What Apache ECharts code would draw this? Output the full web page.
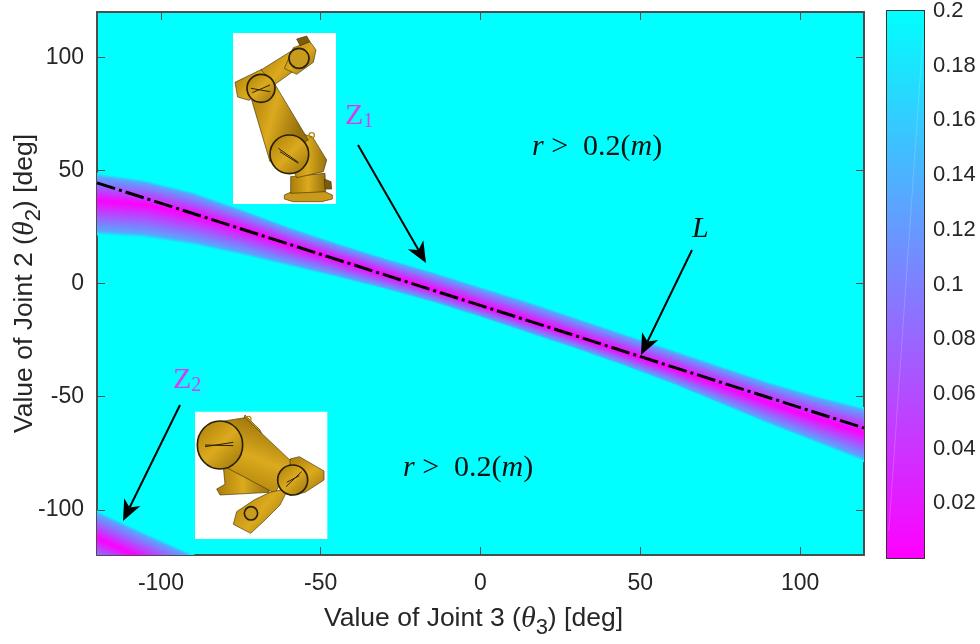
<!DOCTYPE html>
<html><head><meta charset="utf-8">
<style>html,body{margin:0;padding:0;background:#fff}#c{width:980px;height:644px}</style>
<script src="https://cdn.jsdelivr.net/npm/echarts@6/dist/echarts.min.js"></script>
</head><body><div id="c"></div>
<script>
// ---- data ----
const xTicks = [-100, -50, 0, 50, 100];
const yTicks = [-100, -50, 0, 50, 100];
const barTicks = [0.02, 0.04, 0.06, 0.08, 0.1, 0.12, 0.14, 0.16, 0.18, 0.2];
const theta3 = [-120,-105,-90,-75,-60,-45,-30,-15,0,15,30,45,60,75,90,105,120];
const z1Upper = [49.0,45.9,40.6,33.1,25.2,18.1,11.5,5.3,-1.3,-7.9,-15.0,-22.1,-29.1,-36.2,-43.3,-49.4,-54.7];
const z1Centre = [36.6,34.9,30.5,24.3,17.2,10.6,4.0,-2.6,-9.7,-16.3,-23.4,-30.5,-37.5,-45.0,-52.5,-59.6,-66.2];
const z1Lower = [21.2,19.9,16.8,12.4,7.5,2.6,-2.6,-8.4,-15.0,-22.1,-29.1,-36.6,-44.6,-53.4,-62.3,-70.6,-79.0];
const theta3Z2 = [-120,-105,-90,-75];
const z2Upper = [-100.2,-110,-119.5,-129];
const z2Centre = [-112.6,-122,-131,-140];
const z2Lower = [-125,-134,-143,-152];
const lineLx = [-120, 120];
const lineLy = [44.5, -63.9];
const rMax = 0.2;
const contourLevels = [];
for (let r = 0.2; r > 0.002; r -= 0.005) contourLevels.push(+r.toFixed(3));
const colorLow = [255,0,255], colorHigh = [0,255,255];

function cool(r){
  const t = Math.min(1, r / rMax);
  return 'rgb(' + colorLow.map((c,i)=>Math.round(c+(colorHigh[i]-c)*t)).join(',') + ')';
}
// contour stripes thin out towards the band edge: the plotted tone stays bluer until the last lines
function bandTone(r, i){
  const t = r / rMax;
  const base = t < 0.88 ? t * 0.74 : 0.651 + (t - 0.88) / 0.12 * 0.349;
  return rMax * (base + (i % 2 ? 0.025 * t : 0));
}
function bandSeries(xs, up, mid, low){
  return {
    type:'custom', coordinateSystem:'cartesian2d', xAxisIndex:0, yAxisIndex:0, clip:true, silent:true,
    z:2, data:contourLevels.map(r=>[r]), encode:{x:-1,y:-1},
    renderItem(params, api){
      const r = api.value(0), t = r/rMax, pts = [];
      xs.forEach((x,i)=>pts.push(api.coord([x, mid[i]+t*(up[i]-mid[i])])));
      for(let i=xs.length-1;i>=0;i--) pts.push(api.coord([xs[i], mid[i]+t*(low[i]-mid[i])]));
      return {type:'polygon', shape:{points:pts}, style:{fill:cool(bandTone(r, params.dataIndex)), stroke:null}};
    }
  };
}

const ink = '#262626', frame = '#4d4d4d';
const sans = '"Liberation Sans", Arial, sans-serif';
const serif = '"Liberation Serif", "Times New Roman", serif';
const labelRich = {
  th:{fontFamily:serif,fontStyle:'italic',fontSize:30,color:ink},
  sb:{fontFamily:sans,fontSize:22,color:ink,padding:[18,0,0,0],verticalAlign:'bottom'}
};
function mainX(show, pos){ return {
  type:'value', gridIndex:0, min:-120, max:120, position:pos,
  axisLine:{show:true,onZero:false,lineStyle:{color:frame,width:2}},
  axisTick:{show:true,inside:true,length:8,customValues:xTicks,lineStyle:{color:frame,width:1}},
  axisLabel:{show,customValues:xTicks,fontFamily:sans,fontSize:23,color:ink,margin:17},
  splitLine:{show:false}
};}
function mainY(show, pos){ return {
  type:'value', gridIndex:0, min:-120, max:120, position:pos,
  axisLine:{show:true,onZero:false,lineStyle:{color:frame,width:2}},
  axisTick:{show:true,inside:true,length:8,customValues:yTicks,lineStyle:{color:frame,width:1}},
  axisLabel:{show,customValues:yTicks,fontFamily:sans,fontSize:23,color:ink,margin:13},
  splitLine:{show:false}
};}

// ---- illustration helpers (decoration, not data) ----
function gold(x1,y1,x2,y2){return {type:'linear',x:x1,y:y1,x2:x2,y2:y2,colorStops:[{offset:0,color:'#a87c08'},{offset:.5,color:'#dcaa1e'},{offset:1,color:'#96700a'}]};}
function poly(p,f){return {type:'polygon',z:60,shape:{points:p},style:{fill:f||gold(0,0,1,1),stroke:'#4a3606',lineWidth:2}};}
function disc(cx,cy,r,f){return {type:'circle',z:60,shape:{cx,cy,r},style:{fill:f||gold(0,0,1,1),stroke:'#2a2005',lineWidth:5}};}
function seg(x1,y1,x2,y2,w){return {type:'line',z:60,shape:{x1,y1,x2,y2},style:{stroke:'#2a2005',lineWidth:w||3}};}
function robot1(){return {type:'group',x:225,y:25,scaleX:1/3,scaleY:1/3,z:60,children:[
  {type:'rect',z:60,shape:{x:24,y:24,width:309,height:513},style:{fill:'#fff'}},
  poly([[178,510],[205,498],[295,498],[322,510],[322,522],[290,530],[205,530],[178,522]],'#c8991a'),
  poly([[197,455],[300,445],[302,500],[197,505]],gold(0,0,1,0)),
  poly([[298,462],[318,470],[320,492],[300,492]],'#7a5c0c'),
  poly([[225,325],[262,335],[305,405],[295,440],[215,458],[190,400]],gold(0,0,1,0)),
  {type:'circle',z:60,shape:{cx:260,cy:331,r:8},style:{fill:'none',stroke:'#b8890f',lineWidth:4}},
  poly([[80,225],[145,170],[250,345],[135,410]],gold(0,0,1,.2)),
  poly([[30,172],[110,133],[150,170],[72,226],[38,216]],gold(0,0,1,1)),
  poly([[108,135],[215,68],[245,110],[150,178]],gold(0,0,1,1)),
  poly([[205,68],[255,50],[273,75],[265,112],[215,148],[178,130]],gold(0,0,1,1)),
  disc(222,100,30,'#c89a1e'),
  poly([[215,42],[245,33],[255,50],[225,62]],'#7a5c0c'),
  disc(108,190,42),seg(78,190,135,200),seg(82,203,135,180),
  disc(193,388,58,gold(0,0,1,1)),seg(160,370,220,412),seg(165,380,220,415)
]};}
function robot2(){return {type:'group',x:190,y:405,scaleX:1/3,scaleY:1/3,z:60,children:[
  {type:'rect',z:60,shape:{x:15,y:20,width:397,height:382},style:{fill:'#fff'}},
  poly([[100,185],[225,225],[238,262],[90,270],[80,252],[105,238]],gold(0,0,1,0)),
  poly([[165,30],[210,75],[232,125],[150,80]],gold(0,0,1,1)),
  {type:'circle',z:60,shape:{cx:175,cy:42,r:8},style:{fill:'none',stroke:'#b8890f',lineWidth:4}},
  poly([[90,50],[165,38],[305,170],[255,265],[110,188]],gold(.2,1,.6,0)),
  poly([[300,162],[328,155],[402,198],[402,225],[345,262],[300,272]],gold(0,0,1,1)),
  poly([[240,262],[295,250],[270,300],[222,348],[182,385],[130,358],[140,320],[192,285]],gold(0,0,1,1)),
  disc(183,325,20,'#c89a1e'),
  disc(308,225,45),seg(288,245,335,200),seg(290,232,328,212),
  {type:'ellipse',z:60,shape:{cx:90,cy:120,rx:68,ry:72},style:{fill:gold(0,0,1,1),stroke:'#2a2005',lineWidth:5}},
  seg(45,120,130,122),seg(45,125,130,112)
]};}
function arrow(x1,y1,x2,y2){
  const a=Math.atan2(y2-y1,x2-x1),L=21,W=9,N=15;
  const pt=(d,s)=>[x2-d*Math.cos(a)-s*Math.sin(a),y2-d*Math.sin(a)+s*Math.cos(a)];
  return [
    {type:'line',z:70,shape:{x1,y1,x2:pt(N,0)[0],y2:pt(N,0)[1]},style:{stroke:'#000',lineWidth:2}},
    {type:'polygon',z:70,shape:{points:[[x2,y2],pt(L,W),pt(N,0),pt(L,-W)]},style:{fill:'#000'}}
  ];
}
function note(x,y,text,color){
  return {type:'text',z:70,x,y,style:{text,fill:color||'#111',fontFamily:serif,fontSize:30,
    rich:{i:{fontFamily:serif,fontStyle:'italic',fontSize:30,fill:color||'#111'},
          s:{fontFamily:serif,fontSize:20,fill:color,padding:[12,0,0,0],verticalAlign:'bottom'}}}};
}

const chart = echarts.init(document.getElementById('c'), null, {renderer:'canvas'});
chart.setOption({
  animation:false, backgroundColor:'#fff',
  grid:[
    {left:97,top:12,width:767,height:543,show:true,backgroundColor:'#00ffff',borderWidth:0,outerBoundsMode:'none'},
    {left:887,top:11,width:37,height:547,show:false,outerBoundsMode:'none'}
  ],
  xAxis:[
    Object.assign(mainX(true,'bottom'),{name:'Value of Joint 3 ({th|θ}{sb|3}) [deg]',nameLocation:'middle',nameGap:44,nameMoveOverlap:false,
      nameTextStyle:{fontFamily:sans,fontSize:26.5,color:ink,rich:labelRich,padding:[0,14,0,0]}}),
    mainX(false,'top'),
    {type:'value',gridIndex:1,min:0,max:1,position:'bottom',axisLine:{show:true,onZero:false,lineStyle:{color:'#333',width:2}},axisTick:{show:false},axisLabel:{show:false},splitLine:{show:false}},
    {type:'value',gridIndex:1,min:0,max:1,position:'top',axisLine:{show:true,onZero:false,lineStyle:{color:'#333',width:2}},axisTick:{show:false},axisLabel:{show:false},splitLine:{show:false}}
  ],
  yAxis:[
    Object.assign(mainY(true,'left'),{name:'Value of Joint 2 ({th|θ}{sb|2}) [deg]',nameLocation:'middle',nameGap:52,nameRotate:90,nameMoveOverlap:false,
      nameTextStyle:{fontFamily:sans,fontSize:26.5,color:ink,rich:labelRich}}),
    mainY(false,'right'),
    {type:'value',gridIndex:1,min:0,max:rMax,position:'right',
      axisLine:{show:true,onZero:false,lineStyle:{color:'#333',width:2}},
      axisTick:{show:true,inside:true,length:6,customValues:barTicks,lineStyle:{color:'#333',width:1}},
      axisLabel:{show:true,customValues:barTicks,fontFamily:sans,fontSize:22,color:ink,margin:9,formatter:v=>String(+v.toFixed(2))},
      splitLine:{show:false}},
    {type:'value',gridIndex:1,min:0,max:rMax,position:'left',
      axisLine:{show:true,onZero:false,lineStyle:{color:'#333',width:2}},axisTick:{show:false},axisLabel:{show:false},splitLine:{show:false}}
  ],
  series:[
    bandSeries(theta3,z1Upper,z1Centre,z1Lower),
    bandSeries(theta3Z2,z2Upper,z2Centre,z2Lower),
    {type:'line',xAxisIndex:0,yAxisIndex:0,z:3,symbol:'none',silent:true,
     data:lineLx.map((x,i)=>[x,lineLy[i]]),
     lineStyle:{color:'#000',width:3,type:[19,4,3,4]}},
    {type:'custom',xAxisIndex:2,yAxisIndex:2,z:2,silent:true,data:[[0,0]],encode:{x:-1,y:-1},
     renderItem(p,api){
       const a=api.coord([0,rMax]),b=api.coord([1,0]);
       return {type:'rect',shape:{x:a[0],y:a[1],width:b[0]-a[0],height:b[1]-a[1]},
         style:{fill:{type:'linear',x:0,y:0,x2:0,y2:1,colorStops:[{offset:0,color:cool(rMax)},{offset:1,color:cool(0)}]}}};
     }},
    {type:'line',xAxisIndex:2,yAxisIndex:2,z:3,symbol:'none',silent:true,
     data:[[0.97,0.19],[0.05,0.01]],lineStyle:{color:'rgba(255,255,255,0.18)',width:1}}
  ],
  graphic:[
    robot1(), robot2(),
    ...arrow(358,145,426,263), ...arrow(692,250,641,355), ...arrow(180,405,123,521),
    note(345,100,'Z{s|1}','#d63cf0'), note(173,364,'Z{s|2}','#d63cf0'),
    note(532,132,'{i|r} >  0.2({i|m})'), note(403,453,'{i|r} >  0.2({i|m})'),
    note(692,214,'{i|L}')
  ]
});
</script></body></html>
